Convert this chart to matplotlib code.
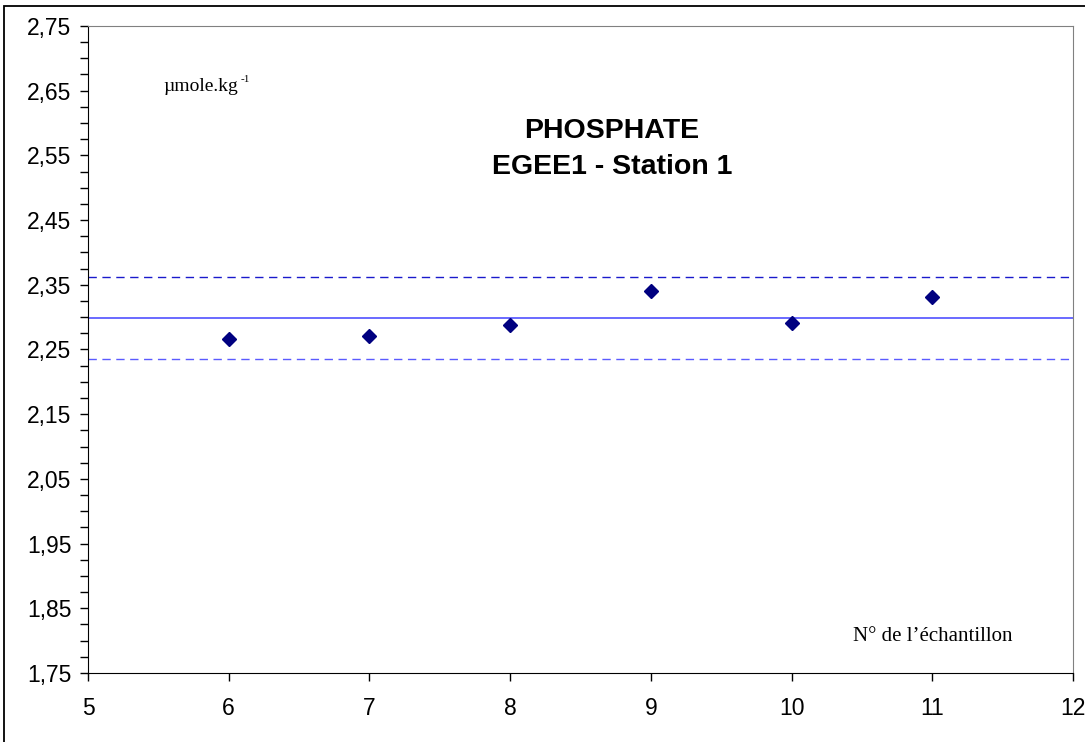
import matplotlib
matplotlib.use('Agg')
import matplotlib.pyplot as plt
from matplotlib.ticker import MultipleLocator, FuncFormatter
from matplotlib.patches import Rectangle

# data
sample_no = [6, 7, 8, 9, 10, 11]
phosphate = [2.266, 2.271, 2.288, 2.340, 2.291, 2.331]
mean_val = 2.299
upper_lim = 2.362
lower_lim = 2.236

fig = plt.figure(figsize=(10.85, 7.42), dpi=100)
fig.patch.set_facecolor('white')
ax = fig.add_axes([0.0811, 0.093, 0.908, 0.872])

ax.axhline(upper_lim, color='#1a1acc', lw=1.0, ls=(0, (6, 4)))
ax.axhline(mean_val, color='#5050ff', lw=1.2)
ax.axhline(lower_lim, color='#5a5aff', lw=1.0, ls=(0, (6, 4)))
ax.plot(sample_no, phosphate, ls='none', marker='D', ms=7, color='#000080')

ax.set_xlim(5, 12)
ax.set_ylim(1.75, 2.75)
ax.xaxis.set_major_locator(MultipleLocator(1))
ax.yaxis.set_major_locator(MultipleLocator(0.1, offset=0.05))
ax.yaxis.set_minor_locator(MultipleLocator(0.025))
ax.yaxis.set_major_formatter(FuncFormatter(lambda v, p: f"{v:.2f}".replace('.', ',')))

for s in ['top', 'right']:
    ax.spines[s].set_color('#808080')
for s in ['left', 'bottom']:
    ax.spines[s].set_color('black')
ax.tick_params(axis='both', which='major', direction='out', length=6, width=1,
               labelsize=16.5, pad=6)
ax.tick_params(axis='y', which='minor', direction='out', length=6, width=1)
ax.tick_params(axis='x', pad=11)
for lbl in ax.get_xticklabels() + ax.get_yticklabels():
    lbl.set_family('Liberation Sans')

ax.text(0.076, 0.907, 'µmole.kg', transform=ax.transAxes, fontsize=14,
        family='Liberation Serif', ha='left', va='center')
ax.text(0.155, 0.917, '-1', transform=ax.transAxes, fontsize=8,
        family='Liberation Serif', ha='left', va='center')
ax.text(0.532, 0.81, 'PHOSPHATE\nEGEE1 - Station 1', transform=ax.transAxes,
        fontsize=20.5, fontweight='bold', family='Liberation Sans',
        ha='center', va='center', linespacing=1.5)
ax.text(0.857, 0.057, 'N° de l’échantillon', transform=ax.transAxes, fontsize=15,
        family='Liberation Serif', ha='center', va='center')

fig.patches.append(Rectangle((0.0035, -0.01), 1.2, 1.002, transform=fig.transFigure,
                             fill=False, edgecolor='black', lw=1.3))

fig.savefig('out.png', dpi=100, facecolor='white')
